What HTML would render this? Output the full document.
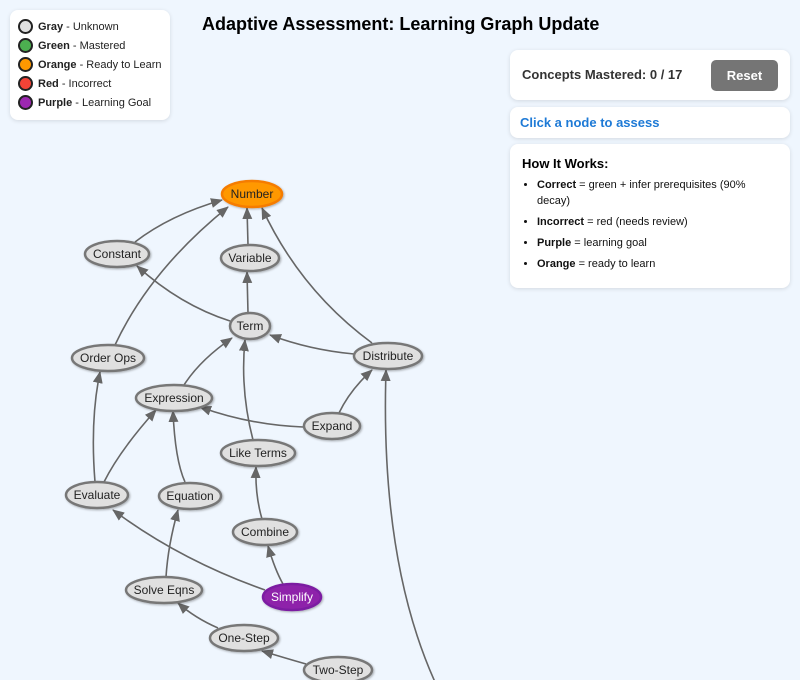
<!DOCTYPE html>
<html><head><meta charset="utf-8"><style>
body{margin:0;width:800px;height:680px;background:#eff6fe;font-family:"Liberation Sans",Arial,sans-serif;position:relative;overflow:hidden}
.card{position:absolute;background:#fff;border-radius:8px;box-shadow:0 1px 4px rgba(0,0,0,.12)}
.leg div{display:flex;align-items:center;font-size:11px;height:19px;color:#222}
.dot{width:15px;height:15px;border-radius:50%;border:2px solid #222;margin-right:5px;box-sizing:border-box}
h1{position:absolute;left:202px;top:14px;margin:0;font-size:18px;font-weight:bold;color:#000}
ul{margin:6px 0 0 0;padding-left:15px}
li{font-size:11px;line-height:16px;margin-bottom:5px;color:#111}
svg text{font-family:"Liberation Sans",Arial,sans-serif;font-size:12px;text-anchor:middle;dominant-baseline:central;fill:#222}
</style></head><body>
<div class="card leg" style="left:10px;top:10px;width:160px;height:110px;padding:7px 0 0 8px;box-sizing:border-box">
<div><span class="dot" style="background:#e0e0e0"></span><b>Gray</b>&nbsp;- Unknown</div>
<div><span class="dot" style="background:#4caf50"></span><b>Green</b>&nbsp;- Mastered</div>
<div><span class="dot" style="background:#ff9800"></span><b>Orange</b>&nbsp;- Ready to Learn</div>
<div><span class="dot" style="background:#f44336"></span><b>Red</b>&nbsp;- Incorrect</div>
<div><span class="dot" style="background:#9c27b0"></span><b>Purple</b>&nbsp;- Learning Goal</div>
</div>
<h1>Adaptive Assessment: Learning Graph Update</h1>
<div class="card" style="left:510px;top:50px;width:280px;height:50px">
<div style="position:absolute;left:12px;top:17px;font-size:13px;font-weight:bold;color:#333">Concepts Mastered: 0 / 17</div>
<div style="position:absolute;left:201px;top:10px;width:67px;height:31px;background:#757575;border-radius:5px;color:#fff;font-weight:bold;font-size:13px;text-align:center;line-height:31px">Reset</div>
</div>
<div class="card" style="left:510px;top:107px;width:280px;height:31px">
<div style="position:absolute;left:10px;top:8px;font-size:13px;font-weight:bold;color:#1e7ad6">Click a node to assess</div>
</div>
<div class="card" style="left:510px;top:144px;width:280px;height:144px;padding:12px 12px 0 12px;box-sizing:border-box">
<div style="font-size:13px;font-weight:bold">How It Works:</div>
<ul>
<li><b>Correct</b> = green + infer prerequisites (90% decay)</li>
<li><b>Incorrect</b> = red (needs review)</li>
<li><b>Purple</b> = learning goal</li>
<li><b>Orange</b> = ready to learn</li>
</ul>
</div>
<svg width="800" height="680" style="position:absolute;left:0;top:0">
<defs><marker id="a" markerWidth="12" markerHeight="10" refX="11" refY="5" orient="auto" markerUnits="userSpaceOnUse"><path d="M0,0 L12,5 L0,10 z" fill="#666"/></marker>
<filter id="s"><feDropShadow dx="1" dy="1" stdDeviation="1" flood-opacity="0.3"/></filter></defs>
<g stroke="#666" stroke-width="1.6" fill="none" marker-end="url(#a)">
<path d="M135,242 Q170,215 222,200"/>
<path d="M115,345 Q150,270 228,207"/>
<path d="M248,245 L247,208"/>
<path d="M372,343 Q300,290 262,208"/>
<path d="M230,321 Q180,305 137,266"/>
<path d="M248,313 L247,272"/>
<path d="M354,354 Q310,350 270,335"/>
<path d="M184,385 Q200,360 232,338"/>
<path d="M253,440 Q240,390 245,340"/>
<path d="M339,413 Q350,390 372,370"/>
<path d="M303,427 Q250,425 200,407"/>
<path d="M95,482 Q90,420 100,372"/>
<path d="M104,482 Q120,450 156,410"/>
<path d="M185,482 Q175,460 173,411"/>
<path d="M262,519 Q255,495 256,467"/>
<path d="M265,590 Q180,560 113,510"/>
<path d="M283,584 Q275,570 268,546"/>
<path d="M166,577 Q168,545 178,510"/>
<path d="M218,628 Q195,618 178,603"/>
<path d="M306,664 Q285,658 262,651"/>
<path d="M435,682 Q380,560 386,370"/>
</g>
<g filter="url(#s)" stroke-width="2.5">
<ellipse cx="252" cy="194" rx="30" ry="13" fill="#ff9800" stroke="#f57c00"/>
<ellipse cx="117" cy="254" rx="32" ry="13" fill="#e0e0e0" stroke="#777"/>
<ellipse cx="250" cy="258" rx="29" ry="13" fill="#e0e0e0" stroke="#777"/>
<ellipse cx="250" cy="326" rx="20" ry="13" fill="#e0e0e0" stroke="#777"/>
<ellipse cx="108" cy="358" rx="36" ry="13" fill="#e0e0e0" stroke="#777"/>
<ellipse cx="388" cy="356" rx="34" ry="13" fill="#e0e0e0" stroke="#777"/>
<ellipse cx="174" cy="398" rx="38" ry="13" fill="#e0e0e0" stroke="#777"/>
<ellipse cx="332" cy="426" rx="28" ry="13" fill="#e0e0e0" stroke="#777"/>
<ellipse cx="258" cy="453" rx="37" ry="13" fill="#e0e0e0" stroke="#777"/>
<ellipse cx="97" cy="495" rx="31" ry="13" fill="#e0e0e0" stroke="#777"/>
<ellipse cx="190" cy="496" rx="31" ry="13" fill="#e0e0e0" stroke="#777"/>
<ellipse cx="265" cy="532" rx="32" ry="13" fill="#e0e0e0" stroke="#777"/>
<ellipse cx="164" cy="590" rx="38" ry="13" fill="#e0e0e0" stroke="#777"/>
<ellipse cx="292" cy="597" rx="29" ry="13" fill="#8e24aa" stroke="#7b1fa2"/>
<ellipse cx="244" cy="638" rx="34" ry="13" fill="#e0e0e0" stroke="#777"/>
<ellipse cx="338" cy="670" rx="34" ry="13" fill="#e0e0e0" stroke="#777"/>
</g>
<text x="252" y="194">Number</text>
<text x="117" y="254">Constant</text>
<text x="250" y="258">Variable</text>
<text x="250" y="326">Term</text>
<text x="108" y="358">Order Ops</text>
<text x="388" y="356">Distribute</text>
<text x="174" y="398">Expression</text>
<text x="332" y="426">Expand</text>
<text x="258" y="453">Like Terms</text>
<text x="97" y="495">Evaluate</text>
<text x="190" y="496">Equation</text>
<text x="265" y="532">Combine</text>
<text x="164" y="590">Solve Eqns</text>
<text x="292" y="597" style="fill:#fff">Simplify</text>
<text x="244" y="638">One-Step</text>
<text x="338" y="670">Two-Step</text>
</svg>
</body></html>
